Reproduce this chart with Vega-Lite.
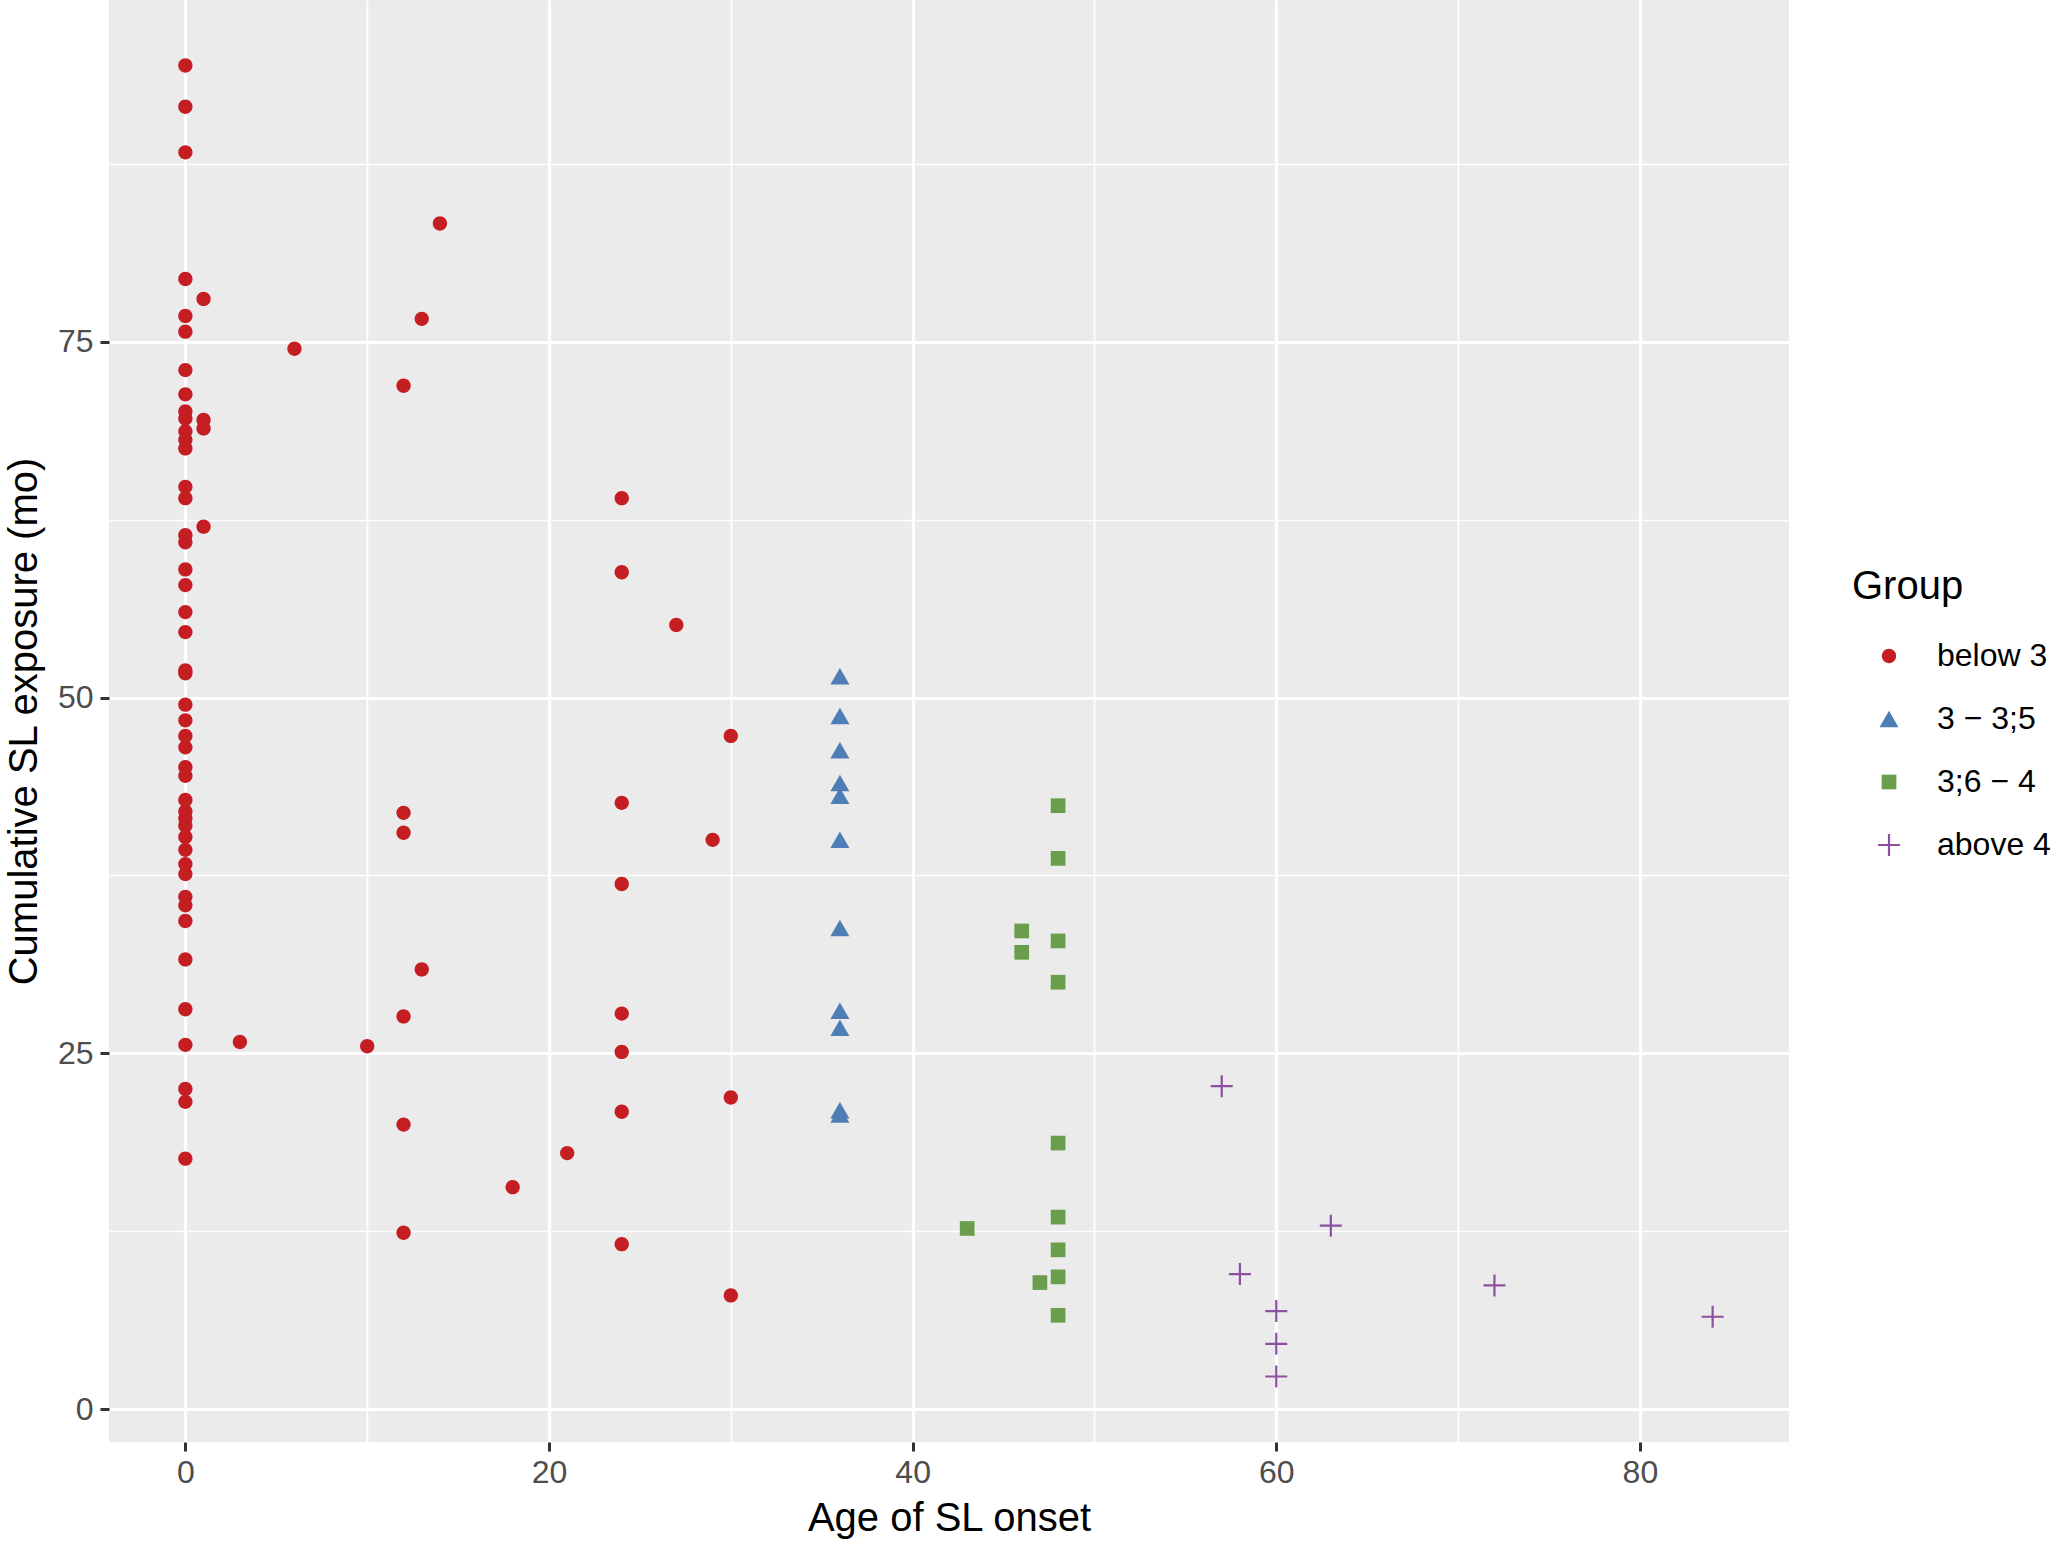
{
  "$schema": "https://vega.github.io/schema/vega-lite/v6.json",
  "autosize": {"type": "none"},
  "padding": {"left": 109, "top": 0, "right": 262, "bottom": 101},
  "width": 1680,
  "height": 1442,
  "data": {
    "values": [
      {"age": 0, "exposure": 94.4, "group": "below 3"},
      {"age": 0, "exposure": 91.5, "group": "below 3"},
      {"age": 0, "exposure": 88.3, "group": "below 3"},
      {"age": 0, "exposure": 79.4, "group": "below 3"},
      {"age": 0, "exposure": 76.8, "group": "below 3"},
      {"age": 0, "exposure": 75.7, "group": "below 3"},
      {"age": 0, "exposure": 73.0, "group": "below 3"},
      {"age": 0, "exposure": 71.3, "group": "below 3"},
      {"age": 0, "exposure": 70.1, "group": "below 3"},
      {"age": 0, "exposure": 69.6, "group": "below 3"},
      {"age": 0, "exposure": 68.7, "group": "below 3"},
      {"age": 0, "exposure": 68.1, "group": "below 3"},
      {"age": 0, "exposure": 67.5, "group": "below 3"},
      {"age": 0, "exposure": 64.8, "group": "below 3"},
      {"age": 0, "exposure": 64.0, "group": "below 3"},
      {"age": 0, "exposure": 61.4, "group": "below 3"},
      {"age": 0, "exposure": 60.9, "group": "below 3"},
      {"age": 0, "exposure": 59.0, "group": "below 3"},
      {"age": 0, "exposure": 57.9, "group": "below 3"},
      {"age": 0, "exposure": 56.0, "group": "below 3"},
      {"age": 0, "exposure": 54.6, "group": "below 3"},
      {"age": 0, "exposure": 51.9, "group": "below 3"},
      {"age": 0, "exposure": 51.7, "group": "below 3"},
      {"age": 0, "exposure": 49.5, "group": "below 3"},
      {"age": 0, "exposure": 48.4, "group": "below 3"},
      {"age": 0, "exposure": 47.3, "group": "below 3"},
      {"age": 0, "exposure": 46.5, "group": "below 3"},
      {"age": 0, "exposure": 45.1, "group": "below 3"},
      {"age": 0, "exposure": 44.5, "group": "below 3"},
      {"age": 0, "exposure": 42.8, "group": "below 3"},
      {"age": 0, "exposure": 42.0, "group": "below 3"},
      {"age": 0, "exposure": 41.5, "group": "below 3"},
      {"age": 0, "exposure": 41.0, "group": "below 3"},
      {"age": 0, "exposure": 40.2, "group": "below 3"},
      {"age": 0, "exposure": 39.3, "group": "below 3"},
      {"age": 0, "exposure": 38.3, "group": "below 3"},
      {"age": 0, "exposure": 37.6, "group": "below 3"},
      {"age": 0, "exposure": 36.0, "group": "below 3"},
      {"age": 0, "exposure": 35.4, "group": "below 3"},
      {"age": 0, "exposure": 34.3, "group": "below 3"},
      {"age": 0, "exposure": 31.6, "group": "below 3"},
      {"age": 0, "exposure": 28.1, "group": "below 3"},
      {"age": 0, "exposure": 25.6, "group": "below 3"},
      {"age": 0, "exposure": 22.5, "group": "below 3"},
      {"age": 0, "exposure": 21.6, "group": "below 3"},
      {"age": 0, "exposure": 17.6, "group": "below 3"},
      {"age": 1, "exposure": 78.0, "group": "below 3"},
      {"age": 1, "exposure": 69.5, "group": "below 3"},
      {"age": 1, "exposure": 68.9, "group": "below 3"},
      {"age": 1, "exposure": 62.0, "group": "below 3"},
      {"age": 3, "exposure": 25.8, "group": "below 3"},
      {"age": 6, "exposure": 74.5, "group": "below 3"},
      {"age": 10, "exposure": 25.5, "group": "below 3"},
      {"age": 12, "exposure": 71.9, "group": "below 3"},
      {"age": 12, "exposure": 41.9, "group": "below 3"},
      {"age": 12, "exposure": 40.5, "group": "below 3"},
      {"age": 12, "exposure": 27.6, "group": "below 3"},
      {"age": 12, "exposure": 20.0, "group": "below 3"},
      {"age": 12, "exposure": 12.4, "group": "below 3"},
      {"age": 13, "exposure": 76.6, "group": "below 3"},
      {"age": 13, "exposure": 30.9, "group": "below 3"},
      {"age": 14, "exposure": 83.3, "group": "below 3"},
      {"age": 18, "exposure": 15.6, "group": "below 3"},
      {"age": 21, "exposure": 18.0, "group": "below 3"},
      {"age": 24, "exposure": 64.0, "group": "below 3"},
      {"age": 24, "exposure": 58.8, "group": "below 3"},
      {"age": 24, "exposure": 42.6, "group": "below 3"},
      {"age": 24, "exposure": 36.9, "group": "below 3"},
      {"age": 24, "exposure": 27.8, "group": "below 3"},
      {"age": 24, "exposure": 25.1, "group": "below 3"},
      {"age": 24, "exposure": 20.9, "group": "below 3"},
      {"age": 24, "exposure": 11.6, "group": "below 3"},
      {"age": 27, "exposure": 55.1, "group": "below 3"},
      {"age": 29, "exposure": 40.0, "group": "below 3"},
      {"age": 30, "exposure": 47.3, "group": "below 3"},
      {"age": 30, "exposure": 21.9, "group": "below 3"},
      {"age": 30, "exposure": 8.0, "group": "below 3"},
      {"age": 36, "exposure": 51.5, "group": "3 − 3;5"},
      {"age": 36, "exposure": 48.7, "group": "3 − 3;5"},
      {"age": 36, "exposure": 46.3, "group": "3 − 3;5"},
      {"age": 36, "exposure": 44.0, "group": "3 − 3;5"},
      {"age": 36, "exposure": 43.1, "group": "3 − 3;5"},
      {"age": 36, "exposure": 40.0, "group": "3 − 3;5"},
      {"age": 36, "exposure": 33.8, "group": "3 − 3;5"},
      {"age": 36, "exposure": 28.0, "group": "3 − 3;5"},
      {"age": 36, "exposure": 26.8, "group": "3 − 3;5"},
      {"age": 36, "exposure": 21.0, "group": "3 − 3;5"},
      {"age": 36, "exposure": 20.7, "group": "3 − 3;5"},
      {"age": 43, "exposure": 12.7, "group": "3;6 − 4"},
      {"age": 46, "exposure": 33.6, "group": "3;6 − 4"},
      {"age": 46, "exposure": 32.1, "group": "3;6 − 4"},
      {"age": 47, "exposure": 8.9, "group": "3;6 − 4"},
      {"age": 48, "exposure": 42.4, "group": "3;6 − 4"},
      {"age": 48, "exposure": 38.7, "group": "3;6 − 4"},
      {"age": 48, "exposure": 32.9, "group": "3;6 − 4"},
      {"age": 48, "exposure": 30.0, "group": "3;6 − 4"},
      {"age": 48, "exposure": 18.7, "group": "3;6 − 4"},
      {"age": 48, "exposure": 13.5, "group": "3;6 − 4"},
      {"age": 48, "exposure": 11.2, "group": "3;6 − 4"},
      {"age": 48, "exposure": 9.3, "group": "3;6 − 4"},
      {"age": 48, "exposure": 6.6, "group": "3;6 − 4"},
      {"age": 57, "exposure": 22.7, "group": "above 4"},
      {"age": 58, "exposure": 9.5, "group": "above 4"},
      {"age": 60, "exposure": 6.9, "group": "above 4"},
      {"age": 60, "exposure": 4.6, "group": "above 4"},
      {"age": 60, "exposure": 2.3, "group": "above 4"},
      {"age": 63, "exposure": 12.9, "group": "above 4"},
      {"age": 72, "exposure": 8.7, "group": "above 4"},
      {"age": 84, "exposure": 6.5, "group": "above 4"}
    ]
  },
  "mark": {"type": "point", "size": 484, "strokeWidth": 2.2, "opacity": 1},
  "encoding": {
    "x": {
      "field": "age",
      "type": "quantitative",
      "scale": {"domain": [-4.2, 88.2], "nice": false, "zero": false},
      "axis": {
        "title": "Age of SL onset",
        "values": [0, 10, 20, 30, 40, 50, 60, 70, 80],
        "labelExpr": "datum.value % 20 === 0 ? datum.label : ''",
        "gridWidth": {"condition": {"test": "datum.value % 20 !== 0", "value": 1.7}, "value": 3.2},
        "tickOpacity": {"condition": {"test": "datum.value % 20 !== 0", "value": 0}, "value": 1},
        "labelPadding": 6,
        "titlePadding": 10
      }
    },
    "y": {
      "field": "exposure",
      "type": "quantitative",
      "scale": {"domain": [-2.3, 99.0], "nice": false, "zero": false},
      "axis": {
        "title": "Cumulative SL exposure (mo)",
        "values": [0, 12.5, 25, 37.5, 50, 62.5, 75, 87.5],
        "labelExpr": "datum.value % 25 === 0 ? datum.label : ''",
        "gridWidth": {"condition": {"test": "datum.value % 25 !== 0", "value": 1.7}, "value": 3.2},
        "tickOpacity": {"condition": {"test": "datum.value % 25 !== 0", "value": 0}, "value": 1},
        "labelPadding": 7,
        "titlePadding": 13
      }
    },
    "shape": {
      "field": "group",
      "type": "nominal",
      "title": "Group",
      "scale": {
        "domain": ["below 3", "3 − 3;5", "3;6 − 4", "above 4"],
        "range": [
          "M-0.65,0A0.65,0.65 0 1,0 0.65,0A0.65,0.65 0 1,0 -0.65,0Z",
          "M0,-0.75L0.864,0.75L-0.864,0.75Z",
          "M-0.668,-0.668H0.668V0.668H-0.668Z",
          "M-1,0H1M0,-1V1"
        ]
      }
    },
    "fill": {
      "field": "group",
      "type": "nominal",
      "title": "Group",
      "scale": {
        "domain": ["below 3", "3 − 3;5", "3;6 − 4", "above 4"],
        "range": ["#C41E23", "#4F7DB6", "#6A9E4D", "transparent"]
      }
    },
    "stroke": {
      "field": "group",
      "type": "nominal",
      "title": "Group",
      "scale": {
        "domain": ["below 3", "3 − 3;5", "3;6 − 4", "above 4"],
        "range": ["transparent", "transparent", "transparent", "#8D50A0"]
      }
    }
  },
  "config": {
    "font": "Liberation Sans",
    "view": {"fill": "#EBEBEB", "stroke": null},
    "axis": {
      "domain": false,
      "grid": true,
      "gridColor": "#FFFFFF",
      "tickColor": "#333333",
      "tickWidth": 3,
      "tickSize": 9,
      "labelFont": "Liberation Sans",
      "labelFontSize": 32,
      "labelColor": "#4D4D4D",
      "titleFont": "Liberation Sans",
      "titleFontSize": 40,
      "titleFontWeight": "normal",
      "titleColor": "#000000"
    },
    "legend": {
      "orient": "none",
      "legendX": 1743,
      "legendY": 567,
      "padding": 0,
      "titleFont": "Liberation Sans",
      "titleFontSize": 40,
      "titleFontWeight": "normal",
      "titleColor": "#000000",
      "titlePadding": 33,
      "labelFont": "Liberation Sans",
      "labelFontSize": 32,
      "labelColor": "#000000",
      "labelOffset": 32,
      "symbolSize": 484,
      "symbolStrokeWidth": 2.2,
      "symbolOffset": 21,
      "rowPadding": 31
    }
  }
}
